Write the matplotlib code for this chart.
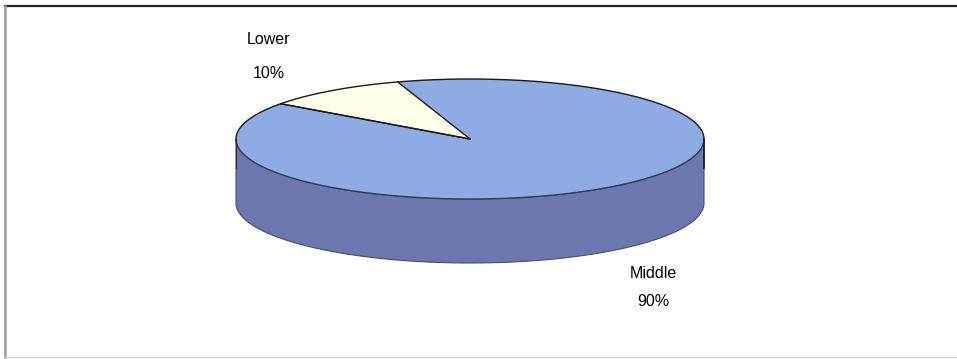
import numpy as np
import matplotlib
matplotlib.use("Agg")
import matplotlib.pyplot as plt
from matplotlib.patches import Polygon

plt.rcParams['font.family'] = ['Liberation Sans', 'DejaVu Sans']

# Data
categories = ["Lower", "Middle"]
shares = [10, 90]
labels_pct = ["10%", "90%"]

# Styling
top_colors = ["#FFFFEA", "#8EABE3"]
side_colors = ["#C9C9A8", "#6B77AE"]
edge_dark = "#1a1a1a"

W, H = 957, 359
fig = plt.figure(figsize=(W / 100, H / 100), dpi=100)
ax = fig.add_axes([0, 0, 1, 1])
ax.set_xlim(0, W)
ax.set_ylim(H, 0)
ax.axis("off")

# Pie geometry (pixel layout)
cx, cy = 470, 139
rx, ry = 234, 60
depth = 64
start_deg = 108.0


def ell(theta_deg, dy=0.0):
    t = np.radians(theta_deg)
    return cx + rx * np.cos(t), cy - ry * np.sin(t) + dy


# slice angular extents
total = float(sum(shares))
bounds = []
a = start_deg
for v in shares:
    b = a + 360.0 * v / total
    bounds.append((a, b))
    a = b

# Side walls: only the front half (180..360 degrees) is visible
for (a0, a1), sc in zip(bounds, side_colors):
    segs = []
    for k in (-1, 0, 1):
        lo = max(a0, 180 + 360 * k)
        hi = min(a1, 360 + 360 * k)
        if hi > lo:
            segs.append((lo, hi))
    for lo, hi in segs:
        th = np.linspace(lo, hi, 200)
        xt, yt = ell(th)
        xb, yb = ell(th[::-1], depth)
        pts = np.column_stack([np.r_[xt, xb], np.r_[yt, yb]])
        ax.add_patch(Polygon(pts, closed=True, facecolor=sc,
                             edgecolor="#474f70", linewidth=0.8, zorder=2))

# Top faces
for (a0, a1), tc in zip(bounds, top_colors):
    th = np.linspace(a0, a1, 400)
    xt, yt = ell(th)
    pts = np.column_stack([np.r_[cx, xt], np.r_[cy, yt]])
    ax.add_patch(Polygon(pts, closed=True, facecolor=tc,
                         edgecolor="none", zorder=3))

# Outlines on the top face
th = np.linspace(0, 180, 300)
xt, yt = ell(th)
ax.plot(xt, yt, color=edge_dark, lw=1.0, zorder=4)
th = np.linspace(180, 360, 300)
xt, yt = ell(th)
ax.plot(xt, yt, color="#2f3d55", lw=1.0, zorder=4)
for a0, _ in bounds:
    x1, y1 = ell(a0)
    if a0 % 360 < 180:
        ax.plot([cx, x1], [cy, y1], color=edge_dark, lw=1.0, zorder=5)
a_end = bounds[0][1]
x1, y1 = ell(a_end)
ax.plot([cx, x1], [cy, y1], color=edge_dark, lw=1.0, zorder=5)

# Side silhouette edges
for ang in (180, 360):
    x1, y1 = ell(ang)
    ax.plot([x1, x1], [y1, y1 + depth * 0.45], color=edge_dark,
            lw=1.2 if ang == 360 else 0.6, zorder=5)

# Labels
label_pos = [(269, 40, 74), (653, 274, 302)]
for (x, y1, y2), name, pct in zip(label_pos, categories, labels_pct):
    ax.text(x, y1, name, ha="center", va="center", fontsize=11.5,
            color="#000000", zorder=6)
    ax.text(x, y2, pct, ha="center", va="center", fontsize=11.5,
            color="#000000", zorder=6)

# Frame
ax.plot([5, W], [6, 6], color="#222222", lw=1.6, zorder=7)
ax.plot([5, 5], [6, 357], color="#9a9a9a", lw=1.8, zorder=7)
ax.plot([5, W], [357, 357], color="#d8d8d8", lw=1.0, zorder=7)

fig.savefig("out.png", dpi=100)
